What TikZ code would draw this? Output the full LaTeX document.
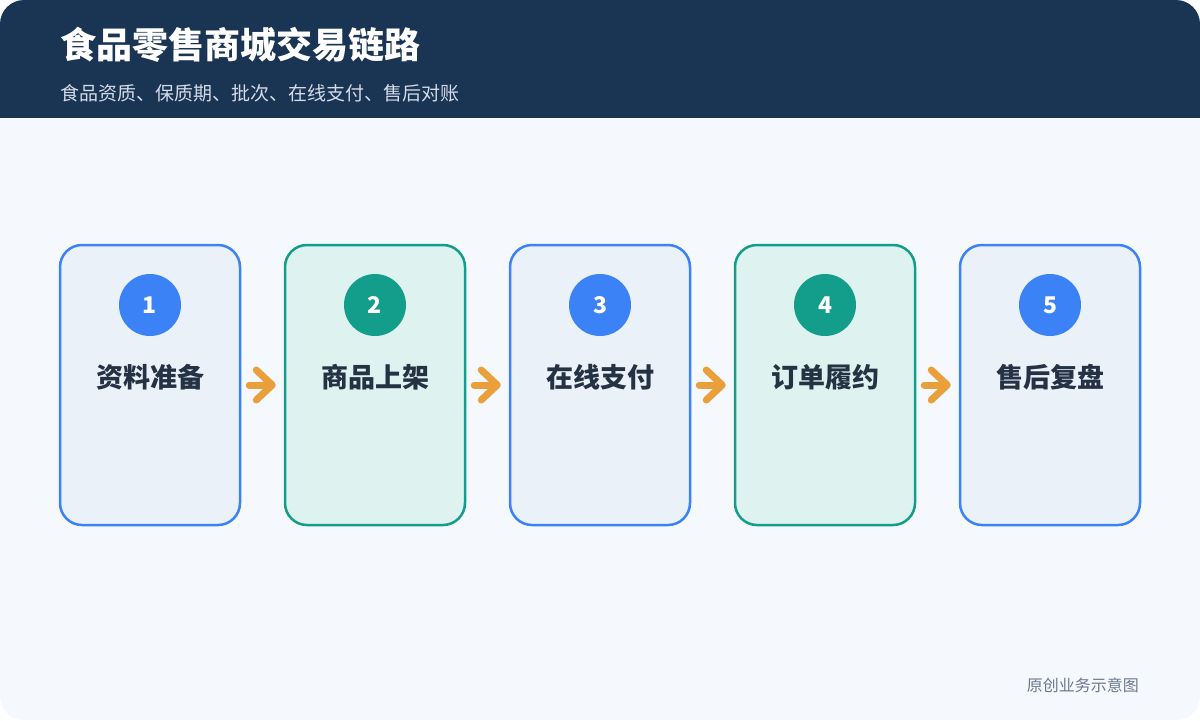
\documentclass[tikz,border=0pt]{standalone}
\usepackage{fontspec}
\usepackage{xcolor}
\usepackage{tikz}
\usetikzlibrary{
    arrows.meta,
    positioning
}
\newfontfamily\cjk{Noto Sans CJK SC}
\definecolor{headnavy}{HTML}{1A3453}
\definecolor{pagebg}{HTML}{F5F8FD}
\definecolor{subgray}{HTML}{D3DCE8}
\definecolor{stepblue}{HTML}{3B82F6}
\definecolor{fillblue}{HTML}{EAF1F9}
\definecolor{stepteal}{HTML}{129E8A}
\definecolor{fillteal}{HTML}{DEF3EF}
\definecolor{labelink}{HTML}{253244}
\definecolor{footgray}{HTML}{6B7A90}
\definecolor{flowamber}{HTML}{EAA03A}
\tikzset{cardb/.style={draw=stepblue, fill=fillblue, line width=1.25pt, rounded corners=11pt, minimum width=90pt, minimum height=140pt}}
\tikzset{cardt/.style={draw=stepteal, fill=fillteal, line width=1.25pt, rounded corners=11pt, minimum width=90pt, minimum height=140pt}}
\tikzset{numb/.style={circle, fill=stepblue, text=white, minimum size=31pt, inner sep=0pt, font=\cjk\bfseries\fontsize{11.5}{11.5}\selectfont}}
\tikzset{numt/.style={numb, fill=stepteal}}
\tikzset{lbl/.style={text=labelink, font=\cjk\bfseries\fontsize{13.5}{13.5}\selectfont}}
\tikzset{flow/.style={draw=flowamber, line width=3.5pt, line cap=round, shorten <=4pt, shorten >=4pt, -{Straight Barb[round, length=8pt, width=15pt]}}}

\begin{document}
\begin{tikzpicture}[x=0.5pt, y=-0.5pt]
                        \useasboundingbox (0, 0) rectangle (1200, 720);
                        \fill[white] (0, 0) rectangle (1200, 720);
                        \begin{scope}
                        \clip[rounded corners=12pt] (0, 0) rectangle (1200, 720);
                        \fill[pagebg] (0, 0) rectangle (1200, 720);
                        \fill[headnavy] (0, 0) rectangle (1200, 118);
                        \end{scope}

                        \node[anchor=west, text=white, font=\cjk\bfseries\fontsize{18}{18}\selectfont] (title) at (53, 45) {食品零售商城交易链路};
                        \node[anchor=west, text=subgray, font=\cjk\fontsize{9.5}{9.5}\selectfont] (sub) at (53, 93) {食品资质、保质期、批次、在线支付、售后对账};

                        \node[cardb] (b1) at (150, 385) {};
                        \node[cardt] (b2) at (375, 385) {};
                        \node[cardb] (b3) at (600, 385) {};
                        \node[cardt] (b4) at (825, 385) {};
                        \node[cardb] (b5) at (1050, 385) {};

                        \node[numb] (n1) at (150, 305) {1};
                        \node[numt] (n2) at (375, 305) {2};
                        \node[numb] (n3) at (600, 305) {3};
                        \node[numt] (n4) at (825, 305) {4};
                        \node[numb] (n5) at (1050, 305) {5};

                        \node[lbl] (l1) at (150, 377) {资料准备};
                        \node[lbl] (l2) at (375, 377) {商品上架};
                        \node[lbl] (l3) at (600, 377) {在线支付};
                        \node[lbl] (l4) at (825, 377) {订单履约};
                        \node[lbl] (l5) at (1050, 377) {售后复盘};

                        \node[anchor=east, text=footgray, font=\cjk\fontsize{8}{8}\selectfont] (foot) at (1146, 685) {原创业务示意图};

                        \draw[flow] (b1) -- (b2);
                        \draw[flow] (b2) -- (b3);
                        \draw[flow] (b3) -- (b4);
                        \draw[flow] (b4) -- (b5);
                    \end{tikzpicture}
\end{document}
